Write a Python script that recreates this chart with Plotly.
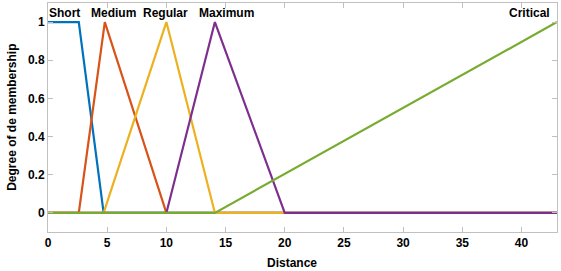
import plotly.graph_objects as go

x_max = 43

short_x = [0, 2.6, 4.7, 43]
short_y = [1, 1, 0, 0]
medium_x = [0, 2.6, 4.8, 10, 43]
medium_y = [0, 0, 1, 0, 0]
regular_x = [0, 4.7, 10, 14.1, 43]
regular_y = [0, 0, 1, 0, 0]
maximum_x = [0, 10, 14.1, 20, 43]
maximum_y = [0, 0, 1, 0, 0]
critical_x = [0, 14.1, 43]
critical_y = [0, 0, 1]

names = ["Short", "Medium", "Regular", "Maximum", "Critical"]
colors = ["#0072BD", "#D95319", "#EDB120", "#7E2F8E", "#77AC30"]
label_x = [1.4, 5.5, 9.9, 15.1, 40.7]
label_y = 1.05

x_ticks = [0, 5, 10, 15, 20, 25, 30, 35, 40]
y_ticks = [0, 0.2, 0.4, 0.6, 0.8, 1]
y_ticktext = ["0", "0.2", "0.4", "0.6", "0.8", "1"]

xs = [short_x, medium_x, regular_x, maximum_x, critical_x]
ys = [short_y, medium_y, regular_y, maximum_y, critical_y]

FONT = dict(size=12, color="black", family="Liberation Sans", weight="bold")

fig = go.Figure()
for n, c, x, y in zip(names, colors, xs, ys):
    fig.add_trace(go.Scatter(x=x, y=y, mode="lines", name=n,
                             line=dict(color=c, width=2.2), showlegend=False))

for n, lx in zip(names, label_x):
    fig.add_annotation(x=lx, y=label_y, text=n, showarrow=False, font=FONT)

fig.add_annotation(xref="paper", yref="paper", x=0.48, y=-0.095, yanchor="top",
                   text="Distance", showarrow=False, font=FONT)
fig.add_annotation(xref="paper", yref="paper", x=-0.072, y=0.5, xanchor="center",
                   text="Degree of de membership", textangle=-90, showarrow=False, font=FONT)

axis_common = dict(showline=True, linecolor="#c0c0c0", linewidth=1, mirror="ticks",
                   ticks="inside", ticklen=5, tickcolor="#c0c0c0", showgrid=False,
                   zeroline=False, automargin=False, tickfont=FONT)

fig.update_xaxes(range=[0, x_max], tickvals=x_ticks, **axis_common)
fig.update_yaxes(range=[-0.1, 1.1], tickvals=y_ticks, ticktext=y_ticktext, **axis_common)

fig.update_layout(width=561, height=271, margin=dict(l=48, r=4, t=3, b=39),
                  plot_bgcolor="white", paper_bgcolor="white")
fig.write_html("out.html", config={"displayModeBar": False},
               post_script="document.body.style.margin='0';document.body.style.overflow='hidden';")
